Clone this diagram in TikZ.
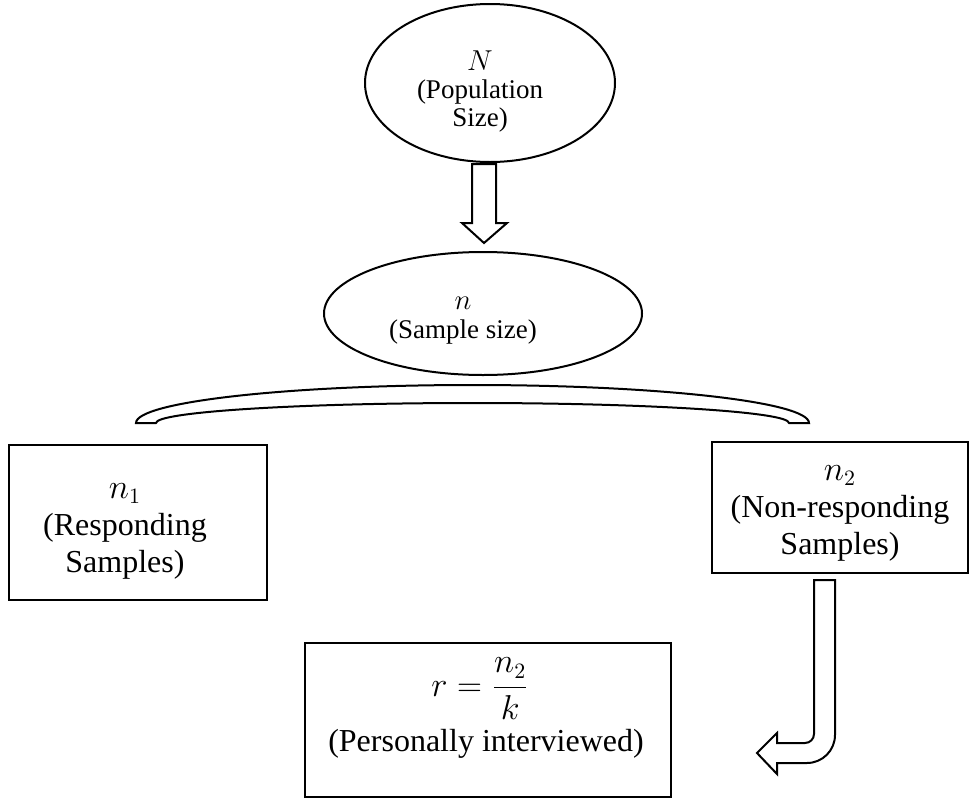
\documentclass[tikz,border=0pt]{standalone}
\usepackage{fontspec}
\setmainfont{Liberation Serif}
\usetikzlibrary{shapes.geometric}
\begin{document}
\begin{tikzpicture}[x=0.5pt,y=-0.5pt,
  shp/.style={draw=black, line width=1pt, fill=white},
  ell/.style={ellipse, draw=black, line width=1pt, inner sep=0pt},
  box/.style={rectangle, draw=black, line width=1.1pt, inner sep=0pt},
  boxtxt/.style={font=\fontsize{16}{18.5}\selectfont, align=center, inner sep=0pt},
  elltxt/.style={font=\fontsize{13.5}{14}\selectfont, align=center, inner sep=0pt}]
\useasboundingbox (0,0) rectangle (970,798);

% population ellipse
\node[ell, minimum width=125pt, minimum height=79pt] (pop) at (490,83) {};
\node[elltxt] (poptext) at (480,92) {$N$\\(Population\\Size)};

% arrow down
\draw[shp] (472,164) -- (496,164) -- (496,223) -- (507,223) -- (484,243)
  -- (462,223) -- (472,223) -- cycle;

% sample ellipse
\node[ell, minimum width=159pt, minimum height=61.5pt] (samp) at (483,313.5) {};
\node[elltxt, font=\fontsize{13.5}{14.5}\selectfont] (samptext) at (463,321) {$n$\\(Sample size)};

% brace-like split shape
\draw[shp] (136,423) arc[start angle=180, end angle=360, x radius=336.5, y radius=38]
  -- (789,423) arc[start angle=360, end angle=180, x radius=316.5, y radius=20]
  -- cycle;

% boxes
\node[box, minimum width=129pt, minimum height=77.5pt] (resp) at (138,522.5) {};
\node[boxtxt] (resptext) at (125,531) {$n_1$\\(Responding\\Samples)};

\node[box, minimum width=128pt, minimum height=65.5pt] (nonresp) at (840,507.5) {};
\node[boxtxt] (nonresptext) at (840,513) {$n_2$\\(Non-responding\\Samples)};

\node[box, minimum width=183pt, minimum height=77pt] (pers) at (488,720) {};
\node[boxtxt] (persformula) at (480,689) {$r=\displaystyle\frac{n_2}{k}$};
\node[boxtxt] (perstext) at (486,744) {(Personally interviewed)};

% curved arrow
\draw[shp] (814,580) -- (835,580) -- (835,735)
  arc[start angle=0, end angle=90, radius=28] -- (777,763) -- (777,774)
  -- (757,753) -- (777,733) -- (777,743) -- (805,743)
  arc[start angle=90, end angle=0, radius=9] -- cycle;
\end{tikzpicture}
\end{document}
